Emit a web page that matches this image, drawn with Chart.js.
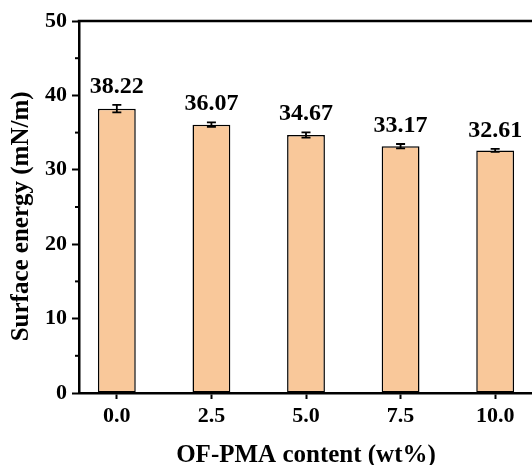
<!DOCTYPE html>
<html>
<head>
<meta charset="utf-8">
<script src="https://cdn.jsdelivr.net/npm/chart.js@4.4.1/dist/chart.umd.min.js"></script>
<style>
html,body{margin:0;padding:0;background:#fff;overflow:hidden;}
#wrap{width:545px;height:465px;}
</style>
</head>
<body>
<div id="wrap"><canvas id="c" width="545" height="465"></canvas></div>
<script>
// ---- data ----
const contents = [0, 2.5, 5.0, 7.5, 10.0];
const tickLabels = ["0.0", "2.5", "5.0", "7.5", "10.0"];
const surfaceEnergy = [38.22, 36.07, 34.67, 33.17, 32.61];
const errors = [0.5, 0.3, 0.35, 0.3, 0.2];
const yMinorTicks = [5, 15, 25, 35, 45];

const FONT = "'Liberation Serif', 'Times New Roman', serif";

const extras = {
  id: 'extras',
  afterDatasetsDraw(chart) {
    const ctx = chart.ctx;
    const xs = chart.scales.x, ys = chart.scales.y;
    const area = chart.chartArea;
    ctx.save();
    // top frame line
    ctx.strokeStyle = '#000';
    ctx.lineWidth = 2.5;
    ctx.beginPath();
    ctx.moveTo(area.left - 1.25, area.top);
    ctx.lineTo(area.right + 20, area.top);
    ctx.stroke();
    // minor ticks on y axis
    ctx.lineWidth = 2;
    yMinorTicks.forEach(v => {
      const py = ys.getPixelForValue(v);
      ctx.beginPath();
      ctx.moveTo(area.left - 4, py);
      ctx.lineTo(area.left, py);
      ctx.stroke();
    });
    // error bars + labels
    ctx.lineWidth = 1.8;
    ctx.font = 'bold 24px ' + FONT;
    ctx.fillStyle = '#000';
    ctx.textAlign = 'center';
    ctx.textBaseline = 'alphabetic';
    contents.forEach((x, i) => {
      const px = xs.getPixelForValue(x);
      const top = ys.getPixelForValue(surfaceEnergy[i] + errors[i]);
      const bot = ys.getPixelForValue(surfaceEnergy[i] - errors[i]);
      ctx.beginPath();
      ctx.moveTo(px, top); ctx.lineTo(px, bot);
      ctx.moveTo(px - 4.5, top); ctx.lineTo(px + 4.5, top);
      ctx.moveTo(px - 4.5, bot); ctx.lineTo(px + 4.5, bot);
      ctx.stroke();
      ctx.fillText(surfaceEnergy[i].toFixed(2), px, top - 12);
    });
    ctx.restore();
  }
};

new Chart(document.getElementById('c'), {
  type: 'bar',
  data: {
    datasets: [{
      data: contents.map((x, i) => ({ x: x, y: surfaceEnergy[i] })),
      backgroundColor: 'rgb(249,200,154)',
      borderColor: '#000',
      borderWidth: 1.5,
      borderSkipped: false,
      barPercentage: 0.4,
      categoryPercentage: 1
    }]
  },
  options: {
    responsive: false,
    animation: false,
    events: [],
    layout: { padding: { left: 0, right: 12, top: 21, bottom: -6 } },
    plugins: { legend: { display: false }, tooltip: { enabled: false } },
    scales: {
      x: {
        type: 'linear',
        offset: false,
        min: -1, max: 11,
        afterBuildTicks(scale) { scale.ticks = contents.map(v => ({ value: v })); },
        afterFit(scale) { scale.height = 78; },
        ticks: {
          color: '#000', padding: 4, maxRotation: 0, autoSkip: false,
          font: { family: FONT, size: 22, weight: 'bold' },
          callback(v) { const i = contents.indexOf(v); return i >= 0 ? tickLabels[i] : ''; }
        },
        grid: { offset: false, drawOnChartArea: false, drawTicks: true, tickLength: 6, tickColor: '#000', tickWidth: 2 },
        border: { display: true, color: '#000', width: 2.5, z: 1 },
        title: {
          display: true, text: 'OF-PMA content (wt%)', color: '#000',
          font: { family: FONT, size: 25, weight: 'bold' },
          padding: { top: 0, bottom: 0 }
        }
      },
      y: {
        min: 0, max: 50,
        afterFit(scale) { scale.width = 79; },
        ticks: {
          stepSize: 10, color: '#000', padding: 5,
          font: { family: FONT, size: 22, weight: 'bold' }
        },
        grid: { drawOnChartArea: false, drawTicks: true, tickLength: 7, tickColor: '#000', tickWidth: 2 },
        border: { display: true, color: '#000', width: 2.5, z: 1 },
        title: {
          display: true, text: 'Surface energy (mN/m)   ', color: '#000',
          font: { family: FONT, size: 25, weight: 'bold' },
          padding: { top: 7, bottom: 0 }
        }
      }
    }
  },
  plugins: [extras]
});
</script>
</body>
</html>
